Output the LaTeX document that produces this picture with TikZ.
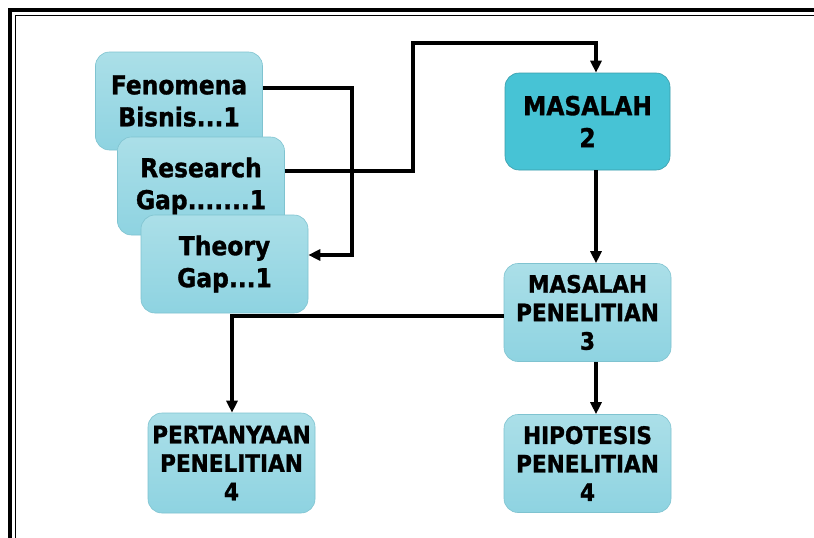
\documentclass[tikz,border=0pt]{standalone}
\usepackage{fontspec}
\setmainfont{DejaVu Sans Condensed}[FakeBold=1.2]
\usetikzlibrary{arrows.meta}
\definecolor{boxtop}{HTML}{ABDFE8}
\definecolor{boxbot}{HTML}{8ED3E1}
\definecolor{boxedge}{HTML}{7FC3D0}
\definecolor{darkbox}{HTML}{47C3D5}
\tikzset{
  card/.style={rectangle, rounded corners=14pt, draw=boxedge, line width=0.6pt,
    top color=boxtop, bottom color=boxbot, align=center, inner sep=0pt,
    minimum width=167pt, minimum height=98pt},
  bigtxt/.style={font=\bfseries\fontsize{26}{32}\selectfont},
  smalltxt/.style={font=\bfseries\fontsize{24}{28.5}\selectfont},
  link/.style={line width=3.4pt, -{Triangle[length=12pt,width=11pt]}}
}
\begin{document}
\begin{tikzpicture}[x=1pt,y=-1pt]
\useasboundingbox (0,0) rectangle (814,538);
\fill[white] (0,0) rectangle (814,538);
% page frame
\draw[line width=4pt] (10,540) -- (10,10) -- (816,10);
\draw[line width=1pt] (15.5,540) -- (15.5,15.5) -- (816,15.5);

% stacked starting cards
\node[card, bigtxt] (fen) at (179,101) {Fenomena\\Bisnis...1};
\node[card, bigtxt] (res) at (201,186) {Research\\Gap.......1};
\node[card, bigtxt] (the) at (224.5,264) {Theory\\Gap...1};

% right column
\node[card, bigtxt, top color=darkbox, bottom color=darkbox, draw=darkbox!80!black,
  minimum width=165pt, minimum height=97pt] (mas) at (587.5,121.5) {MASALAH\\2};
\node[card, smalltxt] (pen) at (587.5,312.5) {MASALAH\\PENELITIAN\\3};
\node[card, smalltxt] (hip) at (587.5,463.5) {HIPOTESIS\\PENELITIAN\\4};
\node[card, smalltxt, minimum height=100pt] (per) at (231.5,463) {PERTANYAAN\\PENELITIAN\\4};

% routing columns and rows
\coordinate (colR) at (596,0);
\coordinate (colA) at (352,0);
\coordinate (colB) at (413,0);
\coordinate (colP) at (232,0);
\coordinate (rowF) at (0,88);
\coordinate (rowR) at (0,171);
\coordinate (rowT) at (0,43);
\coordinate (rowTh) at (0,255);
\coordinate (rowP) at (0,316);

% connectors
\draw[link] (fen.east |- rowF) -| (colA |- rowTh) -- (the.east |- rowTh);
\draw[link] (res.east |- rowR) -- (colB |- rowR) -- (colB |- rowT) -- (colR |- rowT) -- (mas.north -| colR);
\draw[link] (mas.south -| colR) -- (pen.north -| colR);
\draw[link] (pen.west |- rowP) -- (colP |- rowP) -- (per.north -| colP);
\draw[link] (pen.south -| colR) -- (hip.north -| colR);
\end{tikzpicture}
\end{document}
